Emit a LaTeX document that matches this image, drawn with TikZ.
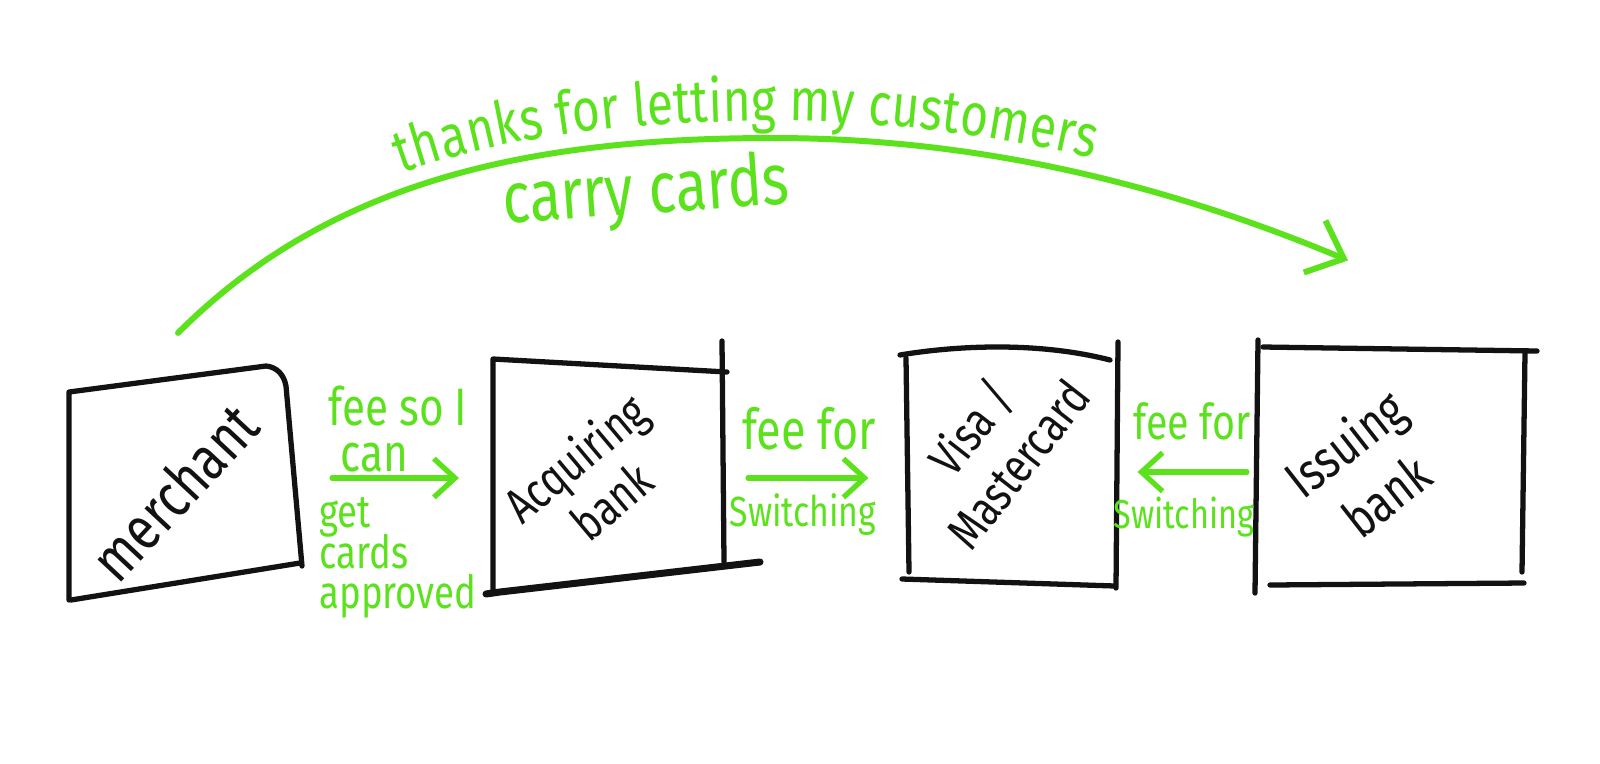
\documentclass[tikz,border=0pt]{standalone}
\usepackage{fontspec}
\newfontfamily\hand[FakeStretch=0.8]{Fira Sans}
\newcommand\handsz[2]{\hand\fontsize{#1}{#2}\selectfont\lineskiplimit=-100pt\relax}
\usetikzlibrary{arrows.meta,decorations.text}
\definecolor{ink}{RGB}{18,18,18}
\definecolor{lime}{RGB}{92,226,28}
\begin{document}
\begin{tikzpicture}[x=0.01cm,y=-0.01cm,
  boxnode/.style={rectangle,inner sep=0pt,outer sep=0pt,draw=none},
  sketch/.style={draw=ink,line width=1.5pt,line cap=round,line join=round},
  lbl/.style={text=ink,align=center,inner sep=0pt},
  glbl/.style={text=lime,align=left,inner sep=0pt},
  garrow/.style={draw=lime,line width=1.5pt,line cap=round,-{Straight Barb[length=6pt,width=11pt]}},
  garc/.style={draw=lime,line width=1.7pt,line cap=round,-{Straight Barb[length=9pt,width=16pt]}}]
\fill[white] (0,0) rectangle (1600,763);
\useasboundingbox (0,0) rectangle (1600,763);

% box nodes
\node[boxnode,minimum width=2.32cm,minimum height=2.30cm] (merchant) at (186,484) {};
\node[boxnode,minimum width=2.32cm,minimum height=2.35cm] (acquiring) at (609,476) {};
\node[boxnode,minimum width=2.11cm,minimum height=2.30cm] (visa) at (1011,470) {};
\node[boxnode,minimum width=2.66cm,minimum height=2.41cm] (issuing) at (1391,467) {};

% sketched outlines
\draw[sketch] (69,600) -- (69,392) -- (266,366) to[out=-5,in=100] (286,386) -- (302,566);
\draw[sketch] (71,600) -- (300,563);
\draw[sketch] (493,592) -- (493,359) -- (727,372);
\draw[sketch] (722,341) -- (724,562);
\draw[sketch,line width=2pt] (486,594) -- (500,592) -- (760,562);
\draw[sketch] (900,355) .. controls (960,345) and (1040,342) .. (1110,360);
\draw[sketch] (906,358) -- (909,572);
\draw[sketch] (1118,342) -- (1116,588);
\draw[sketch] (902,579) -- (1115,586);
\draw[sketch] (1258,340) -- (1255,593);
\draw[sketch] (1263,347) -- (1537,351);
\draw[sketch] (1525,352) -- (1522,572);
\draw[sketch] (1270,585) -- (1524,583);

% box texts
\node[lbl,rotate=47,font=\handsz{17.5}{18}] (tmerchant) at (174,492) {merchant};
\node[lbl,rotate=40,font=\handsz{14}{16}] (tacq) at (593,479) {Acquiring\\bank};
\node[lbl,rotate=52,font=\handsz{14}{17}] (tvisa) at (993,445) {Visa /\\Mastercard};
\node[lbl,rotate=38,font=\handsz{15}{19}] (tiss) at (1365,469) {Issuing\\bank};

% connectors
\coordinate (a1) at ([yshift=0.06cm]merchant.east);
\draw[garrow,shorten <=0.30cm,shorten >=0.34cm] (a1) -- (a1 -| acquiring.west);
\coordinate (a2) at ([yshift=-0.02cm]acquiring.east);
\draw[garrow,shorten <=0.23cm,shorten >=0.37cm] (a2) -- (a2 -| visa.west);
\coordinate (a3) at ([yshift=-0.05cm]issuing.west);
\draw[garrow,shorten <=0.11cm,shorten >=0.21cm] (a3) -- (a3 -| visa.east);

\coordinate (arcS) at ([shift={(-8,-36)}]merchant.north);
\coordinate (arcP) at (773,138);
\coordinate (arcE) at ([shift={(-43,-86)}]issuing.north);
\draw[garc] (arcS) .. controls (328,183) and (523,138) .. (arcP) .. controls (973,138) and (1160,182) .. (arcE);
\path[decorate,decoration={text along path,
    text={|\hand\fontsize{17}{17}\selectfont|thanks for letting my customers},
    text color=lime, raise=0.17cm, text align={left indent=2.72cm}}]
  (arcS) .. controls (328,183) and (523,138) .. (arcP) .. controls (973,138) and (1160,182) .. (arcE);

% green labels
\node[glbl,font=\handsz{15}{13}] (feeA) at (398,429) {fee so I\\\hspace*{0.12cm}can};
\node[glbl,font=\handsz{13}{11.5}] (feeB) at (398,558) {get\\cards\\approved};
\node[glbl,font=\handsz{16}{17}] (feeC) at (809,429) {fee for};
\node[glbl,font=\handsz{12}{13}] (swC) at (803,515) {Switching};
\node[glbl,font=\handsz{14}{15}] (feeD) at (1192,421) {fee for};
\node[glbl,font=\handsz{11.5}{13}] (swD) at (1184,517) {Switching};
\node[glbl,rotate=4,font=\handsz{20.5}{21}] (carry) at (646,194) {carry cards};
\end{tikzpicture}
\end{document}
